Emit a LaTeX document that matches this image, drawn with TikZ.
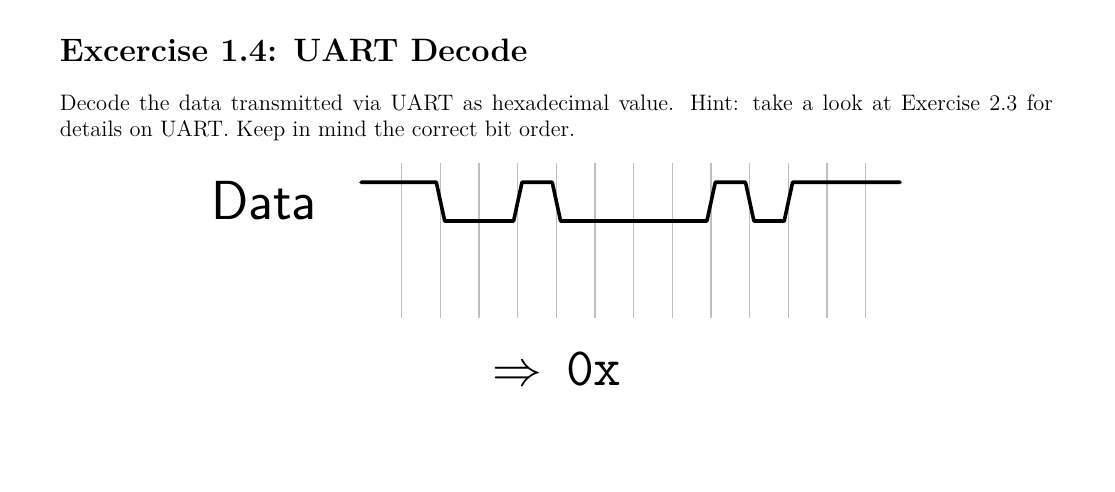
\documentclass[tikz,border=0pt]{standalone}
\usepackage{fontspec}
\begin{document}
\begin{tikzpicture}[x=0.5pt,y=-0.5pt,
  gridline/.style={draw=gray!50, line width=0.65pt},
  signal/.style={draw=black, line width=1.8pt, line cap=round, line join=round},
  txt/.style={inner sep=0pt, outer sep=0pt}]
\useasboundingbox (0,0) rectangle (1115,492);
% title and description
\node[txt, anchor=base west, font=\fontsize{16.2}{19}\selectfont\bfseries] (title) at (60,61.5) {Excercise 1.4: UART Decode};
\node[txt, anchor=base west, text width=496.5pt, align=justify, font=\fontsize{11.2}{12.7}\selectfont] (desc) at (60,110.7)
  {Decode the data transmitted via UART as hexadecimal value. Hint: take a look at Exercise 2.3 for\linebreak details on UART. Keep in mind the correct bit order.};
% grid lines
\foreach \k in {1,...,13} {
  \coordinate (gt\k) at ({401.8+38.66*(\k-1)},163.3);
  \coordinate (gb\k) at ({401.8+38.66*(\k-1)},318.3);
  \draw[gridline] (gt\k) -- (gb\k);
}
% label
\node[txt, anchor=base west, font=\fontsize{27.5}{32}\selectfont\sffamily] (label) at (211,220) {Data};
% signal
\coordinate (s0) at (361,182.3);
\coordinate (s1) at (900,182.3);
\draw[signal] (s0) -- (436.3,182.3) -- (444.7,221) -- (513.6,221) -- (522.0,182.3)
  -- (552.2,182.3) -- (560.6,221) -- (706.9,221) -- (715.3,182.3)
  -- (745.5,182.3) -- (753.9,221) -- (784.2,221) -- (792.6,182.3) -- (s1);
% result
\node[txt, anchor=base west, font=\fontsize{27}{32}\selectfont] (result) at (492,385) {$\Rightarrow$\hspace{0.45em}\texttt{0x}};
\end{tikzpicture}
\end{document}
